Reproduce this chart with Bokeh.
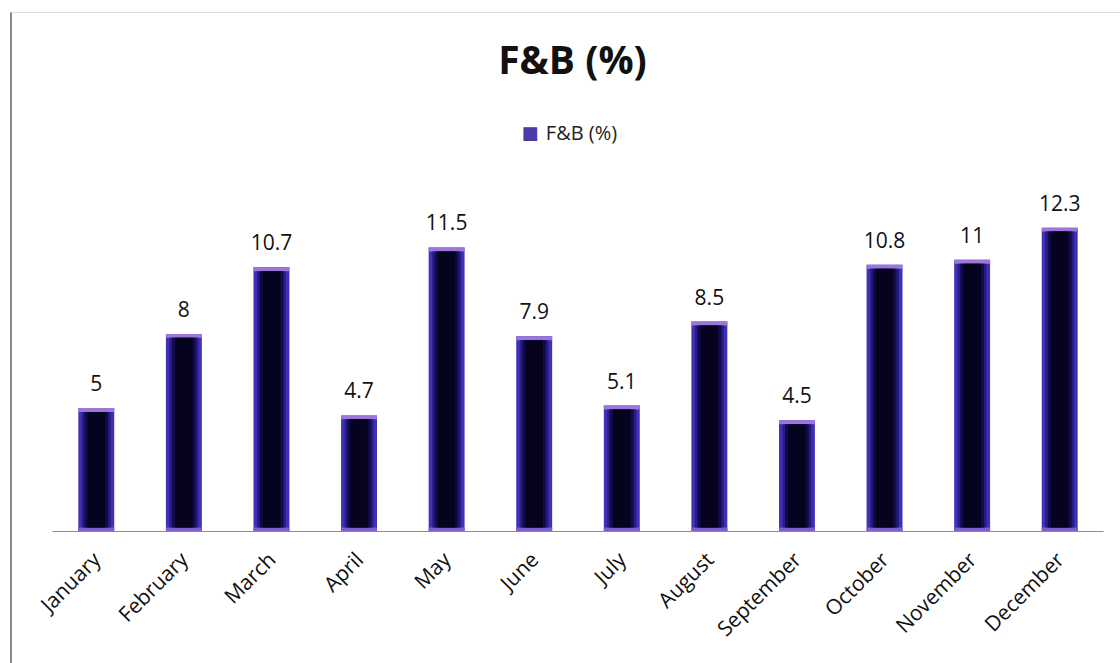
import math

from bokeh.embed import file_html
from bokeh.models import FactorRange, Label, Range1d
from bokeh.plotting import figure
from bokeh.resources import INLINE

# Monthly F&B share (%)
months = ["January", "February", "March", "April", "May", "June",
          "July", "August", "September", "October", "November", "December"]
values = [5, 8, 10.7, 4.7, 11.5, 7.9, 5.1, 8.5, 4.5, 10.8, 11, 12.3]
value_labels = [f"{v:g}" for v in values]
title_text = "F&B (%)"
series_name = "F&B (%)"

FONT = "Open Sans"

p = figure(
    width=1110, height=651,
    x_range=FactorRange(*months, range_padding=0),
    y_range=Range1d(0, 20.97),
    y_axis_location=None,
    output_backend="svg",
    toolbar_location=None,
    min_border_left=40, min_border_right=19,
    min_border_top=0, min_border_bottom=133,
)
p.margin = (12, 0, 0, 10)
p.styles = {"border-left": "2px solid #8a8a8a", "border-top": "1px solid #dcdcdc"}
p.outline_line_color = None
p.xgrid.grid_line_color = None
p.ygrid.grid_line_color = None
p.background_fill_color = "white"
p.border_fill_color = "white"

# bevelled bars, built up from nested layers
bevel = 0.16
bar_w = 0.41
tops_in = [v - bevel for v in values]
bottoms_in = [bevel] * len(values)

p.vbar(x=months, top=values, bottom=0, width=bar_w,
       fill_color="#4030b8", line_color=None)
p.vbar(x=months, top=values, bottom=tops_in, width=bar_w,
       fill_color="#9c76da", line_color=None)
p.vbar(x=months, top=bottoms_in, bottom=0, width=bar_w,
       fill_color="#7c5ecf", line_color=None)
p.vbar(x=months, top=tops_in, bottom=bottoms_in, width=bar_w - 0.08,
       fill_color="#271c84", line_color=None)
p.vbar(x=months, top=tops_in, bottom=bottoms_in, width=bar_w - 0.14,
       fill_color="#120a4a", line_color=None)
p.vbar(x=months, top=tops_in, bottom=bottoms_in, width=bar_w - 0.21,
       fill_color="#06031f", line_color=None)

# value labels above bars
p.text(x=months, y=values, text=value_labels, y_offset=-25,
       text_align="center", text_baseline="alphabetic",
       text_font={"value": FONT}, text_font_size="21px", text_color="#111111")

# chart title and legend
p.add_layout(Label(x=5.937, y=19.13, text=title_text, text_align="center",
                   text_baseline="middle", text_font=FONT, text_font_size="39px",
                   text_font_style="bold", text_color="#111111"))
p.add_layout(Label(x=6.04, y=16.15, text=series_name, text_align="center",
                   text_baseline="middle", text_font=FONT, text_font_size="20px",
                   text_color="#222222"))
p.add_layout(Label(x=5.452, y=16.15, text="\u25a0", text_align="center",
                   text_baseline="middle", text_font="DejaVu Sans",
                   text_font_size="18px", text_color="#4f38a8"))

ax = p.xaxis[0]
ax.axis_line_color = "#8c8c8c"
ax.axis_line_width = 1
ax.major_tick_line_color = None
ax.minor_tick_line_color = None
ax.major_label_orientation = math.pi / 4
ax.major_label_standoff = 18
ax.major_label_text_font = FONT
ax.major_label_text_font_size = "21px"
ax.major_label_text_color = "#111111"

open("out.html", "w").write(file_html(p, INLINE))
